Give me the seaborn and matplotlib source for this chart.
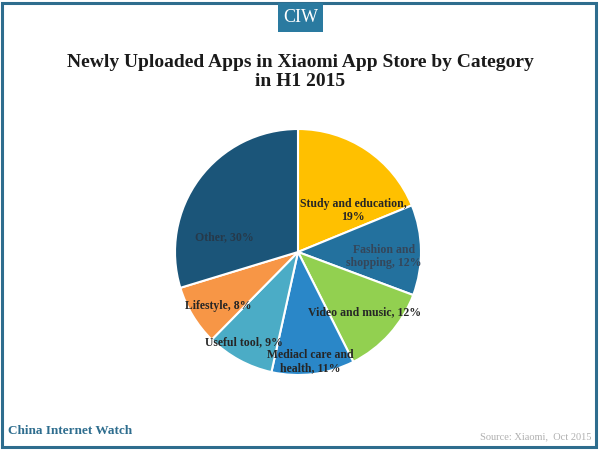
import matplotlib
matplotlib.use("Agg")
import matplotlib.pyplot as plt
import seaborn as sns
from matplotlib.patches import Rectangle

sns.set_theme(style="white")
plt.rcParams['font.family'] = ['Liberation Serif', 'DejaVu Serif']

categories = ["Study and education", "Fashion and\nshopping", "Video and music",
              "Mediacl care and\nhealth", "Useful tool", "Lifestyle", "Other"]
shares = [19, 12, 12, 11, 9, 8, 30]
label_texts = ["Study and education,\n19%", "Fashion and\nshopping, 12%",
               "Video and music, 12%", "Mediacl care and\nhealth, 11%",
               "Useful tool, 9%", "Lifestyle, 8%", "Other, 30%"]
colors = ["#FFC000", "#23719E", "#92D050", "#2A87C8", "#4BACC6", "#F79646", "#1B5579"]
label_colors = ["#262626", "#34465a", "#262626", "#262626", "#262626", "#262626", "#26394a"]
# label anchor positions in pie units (radius = 1)
label_pos = [(0.45, 0.34), (0.70, -0.04), (0.54, -0.49), (0.10, -0.89),
             (-0.44, -0.73), (-0.65, -0.44), (-0.60, 0.12)]

fig = plt.figure(figsize=(6, 4.5), dpi=100)
fig.patch.set_facecolor("white")

# frame
fig.add_artist(Rectangle((0.004, 0.006), 0.99, 0.988, transform=fig.transFigure,
                         fill=False, edgecolor="#2E6D8E", linewidth=2.2))
# CIW badge
fig.add_artist(Rectangle((278/600, 1 - 32/450), 45/600, 29/450, transform=fig.transFigure,
                         facecolor="#2A7AA0", edgecolor="none"))
fig.text(300.5/600, 1 - 17.5/450, "CIW", color="white", fontsize=13,
         ha="center", va="center")

fig.text(0.5, 1 - 72/450, "Newly Uploaded Apps in Xiaomi App Store by Category\nin H1 2015",
         ha="center", va="center", fontsize=14, fontweight="bold", color="#1a1a1a",
         linespacing=1.1)

ax = fig.add_axes([175/600, (450 - 375)/450, 246/600, 246/450])
wedges, _ = ax.pie(shares, colors=colors, startangle=90, counterclock=False,
                   wedgeprops=dict(edgecolor="white", linewidth=1.5))
ax.set_xlim(-1, 1)
ax.set_ylim(-1, 1)
ax.axis("off")

for txt, (x, y), c in zip(label_texts, label_pos, label_colors):
    ax.text(x, y, txt, ha="center", va="center", fontsize=8.5, fontweight="bold",
            color=c, linespacing=1.1)

fig.text(8/600, 1 - 431/450, "China Internet Watch", fontsize=9.5, fontweight="bold",
         color="#2E6D8E", ha="left", va="center")
fig.text(592/600, 1 - 437/450, "Source: Xiaomi,  Oct 2015", fontsize=7.5,
         color="#b0b0b0", ha="right", va="center")

fig.savefig("out.png", dpi=100)
